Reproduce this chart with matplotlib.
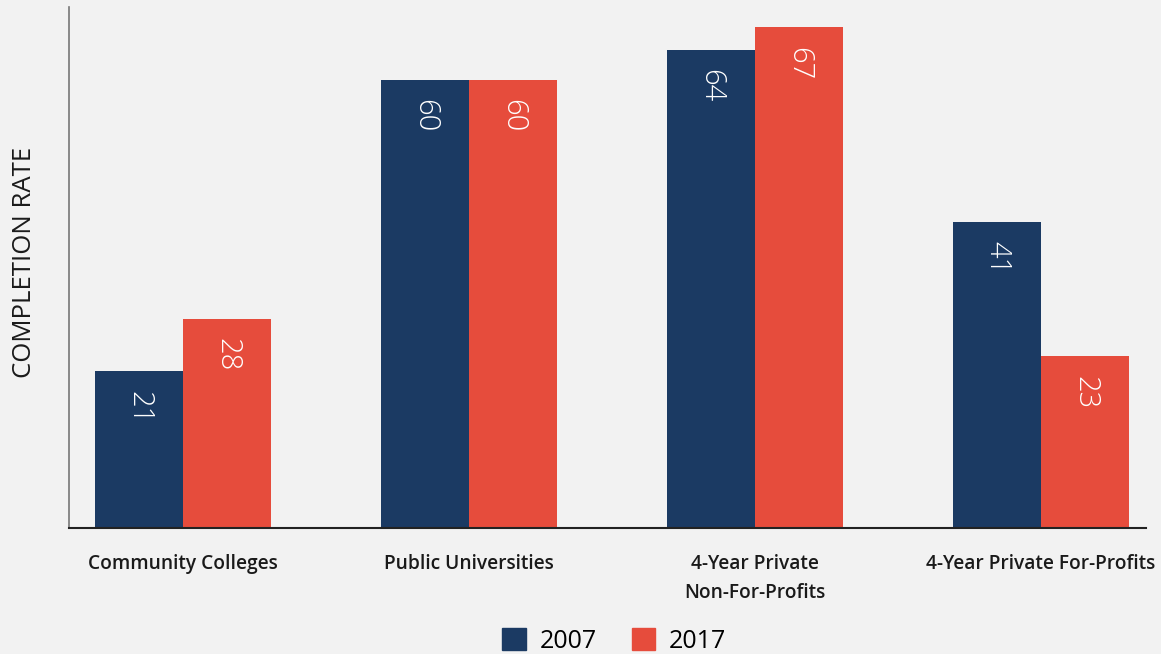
import numpy as np
import matplotlib
matplotlib.use("Agg")
import matplotlib.pyplot as plt
from matplotlib.patches import Patch

# Dane
kategorie = ["Community Colleges", "Public Universities",
             "4-Year Private\nNon-For-Profits", "4-Year Private For-Profits"]
lata = ["2007", "2017"]
wartosci_2007 = [21, 60, 64, 41]
wartosci_2017 = [28, 60, 67, 23]

KOLOR_2007 = "#1b3a63"
KOLOR_2017 = "#e64c3c"
TLO = "#f2f2f2"

plt.rcParams['font.family'] = ['Open Sans', 'DejaVu Sans']

fig = plt.figure(figsize=(11.61, 6.54), dpi=100, facecolor=TLO)
ax = fig.add_axes([0.0594, 0.1927, 0.9276, 0.7963], facecolor=TLO)

x = np.arange(len(kategorie))
szer = 0.3077

slupki_a = ax.bar(x - szer / 2, wartosci_2007, szer, color=KOLOR_2007)
slupki_b = ax.bar(x + szer / 2, wartosci_2017, szer, color=KOLOR_2017)

# Etykiety wartości wewnątrz słupków (obrócone)
for slupki in (slupki_a, slupki_b):
    for s in slupki:
        ax.annotate(str(int(s.get_height())),
                    (s.get_x() + s.get_width() / 2, s.get_height()),
                    xytext=(0, -14), textcoords="offset points",
                    rotation=270, ha="center", va="top",
                    color="white", fontsize=21, fontweight="light")

ax.set_xlim(-0.399, 3.367)
ax.set_ylim(0, 69.7)
ax.set_yticks([])
ax.set_xticks(x)
ax.set_xticklabels(kategorie, fontsize=13.8, fontweight="semibold",
                   color="#1a1a1a", linespacing=1.55)
ax.tick_params(axis="x", length=0, pad=19)

for bok in ("top", "right"):
    ax.spines[bok].set_visible(False)
ax.spines["left"].set_color("#777777")
ax.spines["bottom"].set_color("#222222")
ax.spines["left"].set_linewidth(1.2)
ax.spines["bottom"].set_linewidth(1.5)

ax.set_ylabel("COMPLETION RATE", fontsize=18.5, color="#1a1a1a")
ax.yaxis.set_label_coords(-0.0295, 0.51)

uchwyty = [Patch(color=KOLOR_2007, label=lata[0]),
           Patch(color=KOLOR_2017, label=lata[1])]
fig.legend(handles=uchwyty, loc="center", bbox_to_anchor=(0.529, 0.02),
           ncol=2, frameon=False, fontsize=18, handlelength=0.95,
           handleheight=0.95, columnspacing=1.4, handletextpad=0.55)

fig.savefig("out.png", dpi=100, facecolor=TLO)
